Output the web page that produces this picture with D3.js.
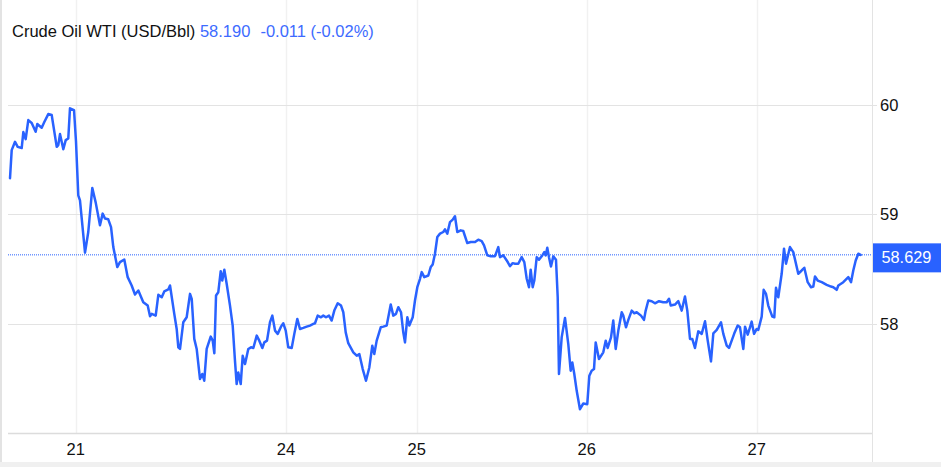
<!DOCTYPE html>
<html>
<head>
<meta charset="utf-8">
<script src="https://cdn.jsdelivr.net/npm/d3@7"></script>
<style>
  html, body { margin: 0; padding: 0; background: #fff; }
  svg { display: block; }
  text { font-family: "Liberation Sans", Arial, sans-serif; }
</style>
</head>
<body>
<svg id="chart" width="941" height="467"></svg>
<script>
// ---- data ----
const titleName = "Crude Oil WTI (USD/Bbl)";
const titlePrice = "58.190";
const titleChange = "-0.011";
const titlePct = "(-0.02%)";
const lastPrice = 58.629;

// trading hours elapsed since the first point
const hours = [
  0, 0.24, 0.71, 1.09, 1.65, 1.88, 2.21, 2.58, 3.06, 3.62,
  3.85, 4.47, 4.84, 5.40, 5.88, 6.59, 6.81, 7.05, 7.52, 7.86,
  8.22, 8.46, 9.03, 9.31, 9.63, 9.87, 10.58, 11.04, 11.61, 12.09,
  12.69, 13.07, 13.40, 13.86, 14.25, 14.57, 15.13, 15.51, 16.12, 16.60,
  17.16, 17.63, 18.10, 18.80, 19.42, 19.75, 19.99, 20.55, 20.92, 21.40,
  21.76, 22.33, 22.57, 23.17, 23.51, 23.74, 23.98, 24.44, 24.92, 25.39,
  25.63, 25.99, 26.33, 26.80, 27.12, 27.40, 27.74, 28.31, 28.59, 28.82,
  29.06, 29.38, 29.72, 29.94, 30.23, 30.56, 31.03, 31.41, 31.73, 31.97,
  32.20, 32.54, 32.82, 33.15, 33.61, 33.99, 34.32, 34.80, 35.16, 35.59,
  35.87, 36.25, 36.67, 37.00, 37.38, 37.76, 38.22, 38.55, 38.89, 39.25,
  39.73, 40.10, 40.52, 40.90, 41.37, 41.85, 42.31, 42.78, 43.02, 43.40,
  43.86, 44.19, 44.57, 44.99, 45.37, 45.74, 46.22, 46.69, 47.01, 47.35,
  47.71, 48.42, 48.90, 49.27, 49.75, 50.21, 50.68, 51.10, 51.38, 51.72,
  52.29, 52.65, 53.13, 53.70, 54.06, 54.44, 54.77, 55.15, 55.47, 55.71,
  56.04, 56.32, 56.80, 57.12, 57.45, 57.83, 58.07, 58.43, 59.00, 59.34,
  59.62, 59.94, 60.27, 60.65, 61.11, 61.35, 61.68, 62.06, 62.44, 62.76,
  63.09, 63.57, 63.93, 64.50, 64.98, 65.59, 66.05, 66.53, 66.86, 67.32,
  67.80, 68.41, 68.87, 69.11, 69.58, 70.06, 70.52, 70.90, 71.23, 71.69,
  72.17, 72.54, 72.88, 73.20, 73.44, 73.72, 73.95, 74.29, 74.61, 75.08,
  75.36, 75.56, 75.78, 76.02, 76.30, 76.63, 77.01, 77.25, 77.43, 77.81,
  78.28, 78.74, 79.08, 79.31, 79.59, 79.93, 80.39, 80.86, 81.42, 81.71,
  82.04, 82.37, 82.61, 83.07, 83.68, 84.02, 84.30, 84.77, 85.09, 85.43,
  85.80, 86.28, 86.50, 86.88, 87.21, 87.69, 88.06, 88.39, 89.00, 89.42,
  89.66, 90.03, 90.51, 90.97, 91.54, 92.14, 92.62, 92.95, 93.19, 93.79,
  94.26, 94.74, 95.20, 95.53, 95.91, 96.23, 96.61, 97.08, 97.56, 98.03,
  98.41, 98.87, 99.20, 99.68, 100.28, 100.61, 101.09, 101.41, 101.79, 102.16,
  102.64, 102.96, 103.43, 103.67, 104.05, 104.37, 104.61, 104.94, 105.32, 105.54,
  106.02, 106.30, 106.63, 106.95, 107.52, 107.80, 108.04, 108.36, 108.84, 109.17,
  109.45, 110.01, 110.48, 111.18, 111.66, 112.03, 112.51, 112.98, 113.30, 113.54,
  113.92, 114.49, 115.19, 115.80, 116.12, 116.60, 116.83, 117.53, 118.24, 118.62,
  118.94, 119.28, 119.65, 119.98
];

const prices = [
  59.330, 59.587, 59.663, 59.617, 59.606, 59.752, 59.688, 59.862, 59.835, 59.755,
  59.826, 59.792, 59.844, 59.917, 59.908, 59.617, 59.633, 59.734, 59.596, 59.679,
  59.694, 59.970, 59.954, 59.663, 59.174, 59.128, 58.649, 58.838, 59.241, 59.107,
  58.899, 59.006, 58.961, 58.954, 58.883, 58.700, 58.517, 58.562, 58.587, 58.425,
  58.349, 58.266, 58.303, 58.195, 58.165, 58.067, 58.089, 58.073, 58.263, 58.241,
  58.294, 58.312, 58.349, 58.089, 57.951, 57.783, 57.768, 58.012, 58.058, 58.272,
  58.227, 57.860, 57.768, 57.493, 57.539, 57.477, 57.768, 57.881, 57.844, 57.728,
  58.257, 58.287, 58.480, 58.394, 58.493, 58.364, 58.165, 57.982, 57.661, 57.447,
  57.553, 57.447, 57.706, 57.630, 57.768, 57.783, 57.777, 57.890, 57.844, 57.777,
  57.828, 57.844, 58.012, 58.073, 57.936, 57.906, 57.972, 58.003, 57.936, 57.783,
  57.777, 57.906, 58.043, 57.951, 57.961, 57.972, 57.982, 57.997, 58.003, 58.073,
  58.058, 58.073, 58.058, 58.073, 58.028, 58.119, 58.186, 58.165, 58.104, 57.920,
  57.821, 57.737, 57.706, 57.722, 57.584, 57.477, 57.599, 57.798, 57.722, 57.844,
  57.966, 57.972, 57.982, 58.174, 58.073, 58.089, 58.150, 58.104, 57.920, 57.828,
  58.058, 57.982, 58.058, 58.211, 58.333, 58.410, 58.471, 58.425, 58.440, 58.517,
  58.541, 58.639, 58.792, 58.823, 58.838, 58.862, 58.823, 58.929, 58.951, 58.982,
  58.838, 58.853, 58.847, 58.737, 58.746, 58.746, 58.768, 58.755, 58.716, 58.624,
  58.617, 58.617, 58.700, 58.608, 58.624, 58.578, 58.526, 58.553, 58.548, 58.548,
  58.608, 58.562, 58.410, 58.333, 58.493, 58.333, 58.394, 58.608, 58.584, 58.624,
  58.654, 58.624, 58.694, 58.608, 58.523, 58.615, 58.584, 58.241, 57.539, 57.874,
  58.052, 57.814, 57.569, 57.645, 57.539, 57.385, 57.217, 57.269, 57.263, 57.523,
  57.569, 57.584, 57.828, 57.676, 57.737, 57.844, 57.777, 57.874, 58.028, 57.768,
  57.936, 58.104, 58.073, 57.966, 58.034, 58.119, 58.094, 58.104, 58.073, 58.034,
  58.119, 58.211, 58.205, 58.186, 58.205, 58.195, 58.195, 58.227, 58.165, 58.174,
  58.205, 58.119, 58.248, 58.119, 57.860, 57.860, 57.777, 57.929, 57.906, 58.021,
  57.844, 57.654, 57.911, 57.942, 58.012, 57.906, 57.798, 57.777, 57.844, 57.911,
  57.982, 57.966, 57.768, 57.972, 57.899, 57.966, 58.018, 57.906, 57.951, 57.942,
  58.064, 58.309, 58.272, 58.165, 58.064, 58.058, 58.328, 58.241, 58.456, 58.685,
  58.548, 58.700, 58.654, 58.456, 58.486, 58.511, 58.379, 58.333, 58.339, 58.431,
  58.394, 58.379, 58.355, 58.339, 58.333, 58.309, 58.349, 58.379, 58.425, 58.379,
  58.486, 58.578, 58.639, 58.629
];

const xTickHours = [9.27, 38.93, 57.36, 81.35, 105.33];
const xTickLabels = ["21", "24", "25", "26", "27"];
const yTicks = [58, 59, 60];

// ---- layout ----
const W = 941, H = 467;
const plotLeft = 8, plotRight = 872, plotBottom = 433;
const blue = "#2962ff";

const svg = d3.select("#chart");

const x = d3.scaleLinear().domain([0, 120]).range([10, 860.8]);
const y = d3.scaleLinear().domain([58, 60]).range([323.6, 105]);

svg.append("rect").attr("width", W).attr("height", H).attr("fill", "#fff");

// bottom band
svg.append("rect").attr("x", 0).attr("y", 462).attr("width", W).attr("height", H - 462).attr("fill", "#f0f0f0");

// left border
svg.append("line").attr("x1", 1).attr("x2", 1).attr("y1", 0).attr("y2", 462)
  .attr("stroke", "#e3e3e3").attr("stroke-width", 2);

// vertical gridlines
svg.append("g").selectAll("line").data(xTickHours).join("line")
  .attr("x1", d => Math.round(x(d)) + 0.5).attr("x2", d => Math.round(x(d)) + 0.5)
  .attr("y1", 0).attr("y2", plotBottom)
  .attr("stroke", "#f1f1f1").attr("stroke-width", 1.5);

// horizontal gridlines
svg.append("g").selectAll("line").data(yTicks).join("line")
  .attr("x1", plotLeft).attr("x2", plotRight + 5)
  .attr("y1", d => Math.round(y(d)) + 0.5).attr("y2", d => Math.round(y(d)) + 0.5)
  .attr("stroke", "#e3e3e3").attr("stroke-width", 1);

// right border
svg.append("line").attr("x1", plotRight + 0.5).attr("x2", plotRight + 0.5)
  .attr("y1", 0).attr("y2", 462).attr("stroke", "#e3e3e3").attr("stroke-width", 1);

// bottom axis line
svg.append("line").attr("x1", plotLeft).attr("x2", plotRight)
  .attr("y1", plotBottom + 0.5).attr("y2", plotBottom + 0.5)
  .attr("stroke", "#dcdcdc").attr("stroke-width", 1.5);

// y labels
svg.append("g").selectAll("text").data(yTicks).join("text")
  .attr("x", 880).attr("y", d => y(d) + 6)
  .attr("font-size", 16.5).attr("fill", "#111")
  .text(d => d3.format("d")(d));

// x labels
svg.append("g").selectAll("text").data(xTickHours).join("text")
  .attr("x", d => x(d)).attr("y", 454.5)
  .attr("text-anchor", "middle")
  .attr("font-size", 16.5).attr("fill", "#111")
  .text((d, i) => xTickLabels[i]);

// last price dotted line
svg.append("line").attr("x1", plotLeft).attr("x2", plotRight)
  .attr("y1", y(lastPrice)).attr("y2", y(lastPrice))
  .attr("stroke", blue).attr("stroke-width", 1).attr("stroke-dasharray", "1,1");

// price line
const pts = hours.map((h, i) => [h, prices[i]]);
svg.append("path").datum(pts)
  .attr("fill", "none").attr("stroke", blue).attr("stroke-width", 2.5)
  .attr("stroke-linejoin", "round").attr("stroke-linecap", "round")
  .attr("d", d3.line().x(d => x(d[0])).y(d => y(d[1])));

// last price label
const ly = y(lastPrice);
svg.append("rect").attr("x", plotRight + 1).attr("y", ly - 11.5)
  .attr("width", W - plotRight - 1).attr("height", 29).attr("fill", blue);
svg.append("text").attr("x", 881.5).attr("y", ly + 8.5)
  .attr("font-size", 16.3).attr("fill", "#fff")
  .text(d3.format(".3f")(lastPrice));

// title
const t = svg.append("text").attr("x", 12).attr("y", 36.5).attr("font-size", 16.5);
t.append("tspan").attr("fill", "#111").text(titleName + " ");
t.append("tspan").attr("fill", "#3d6bff").text(titlePrice);
t.append("tspan").attr("fill", "#3d6bff").attr("dx", 10).text(titleChange + " " + titlePct);
</script>
</body>
</html>
